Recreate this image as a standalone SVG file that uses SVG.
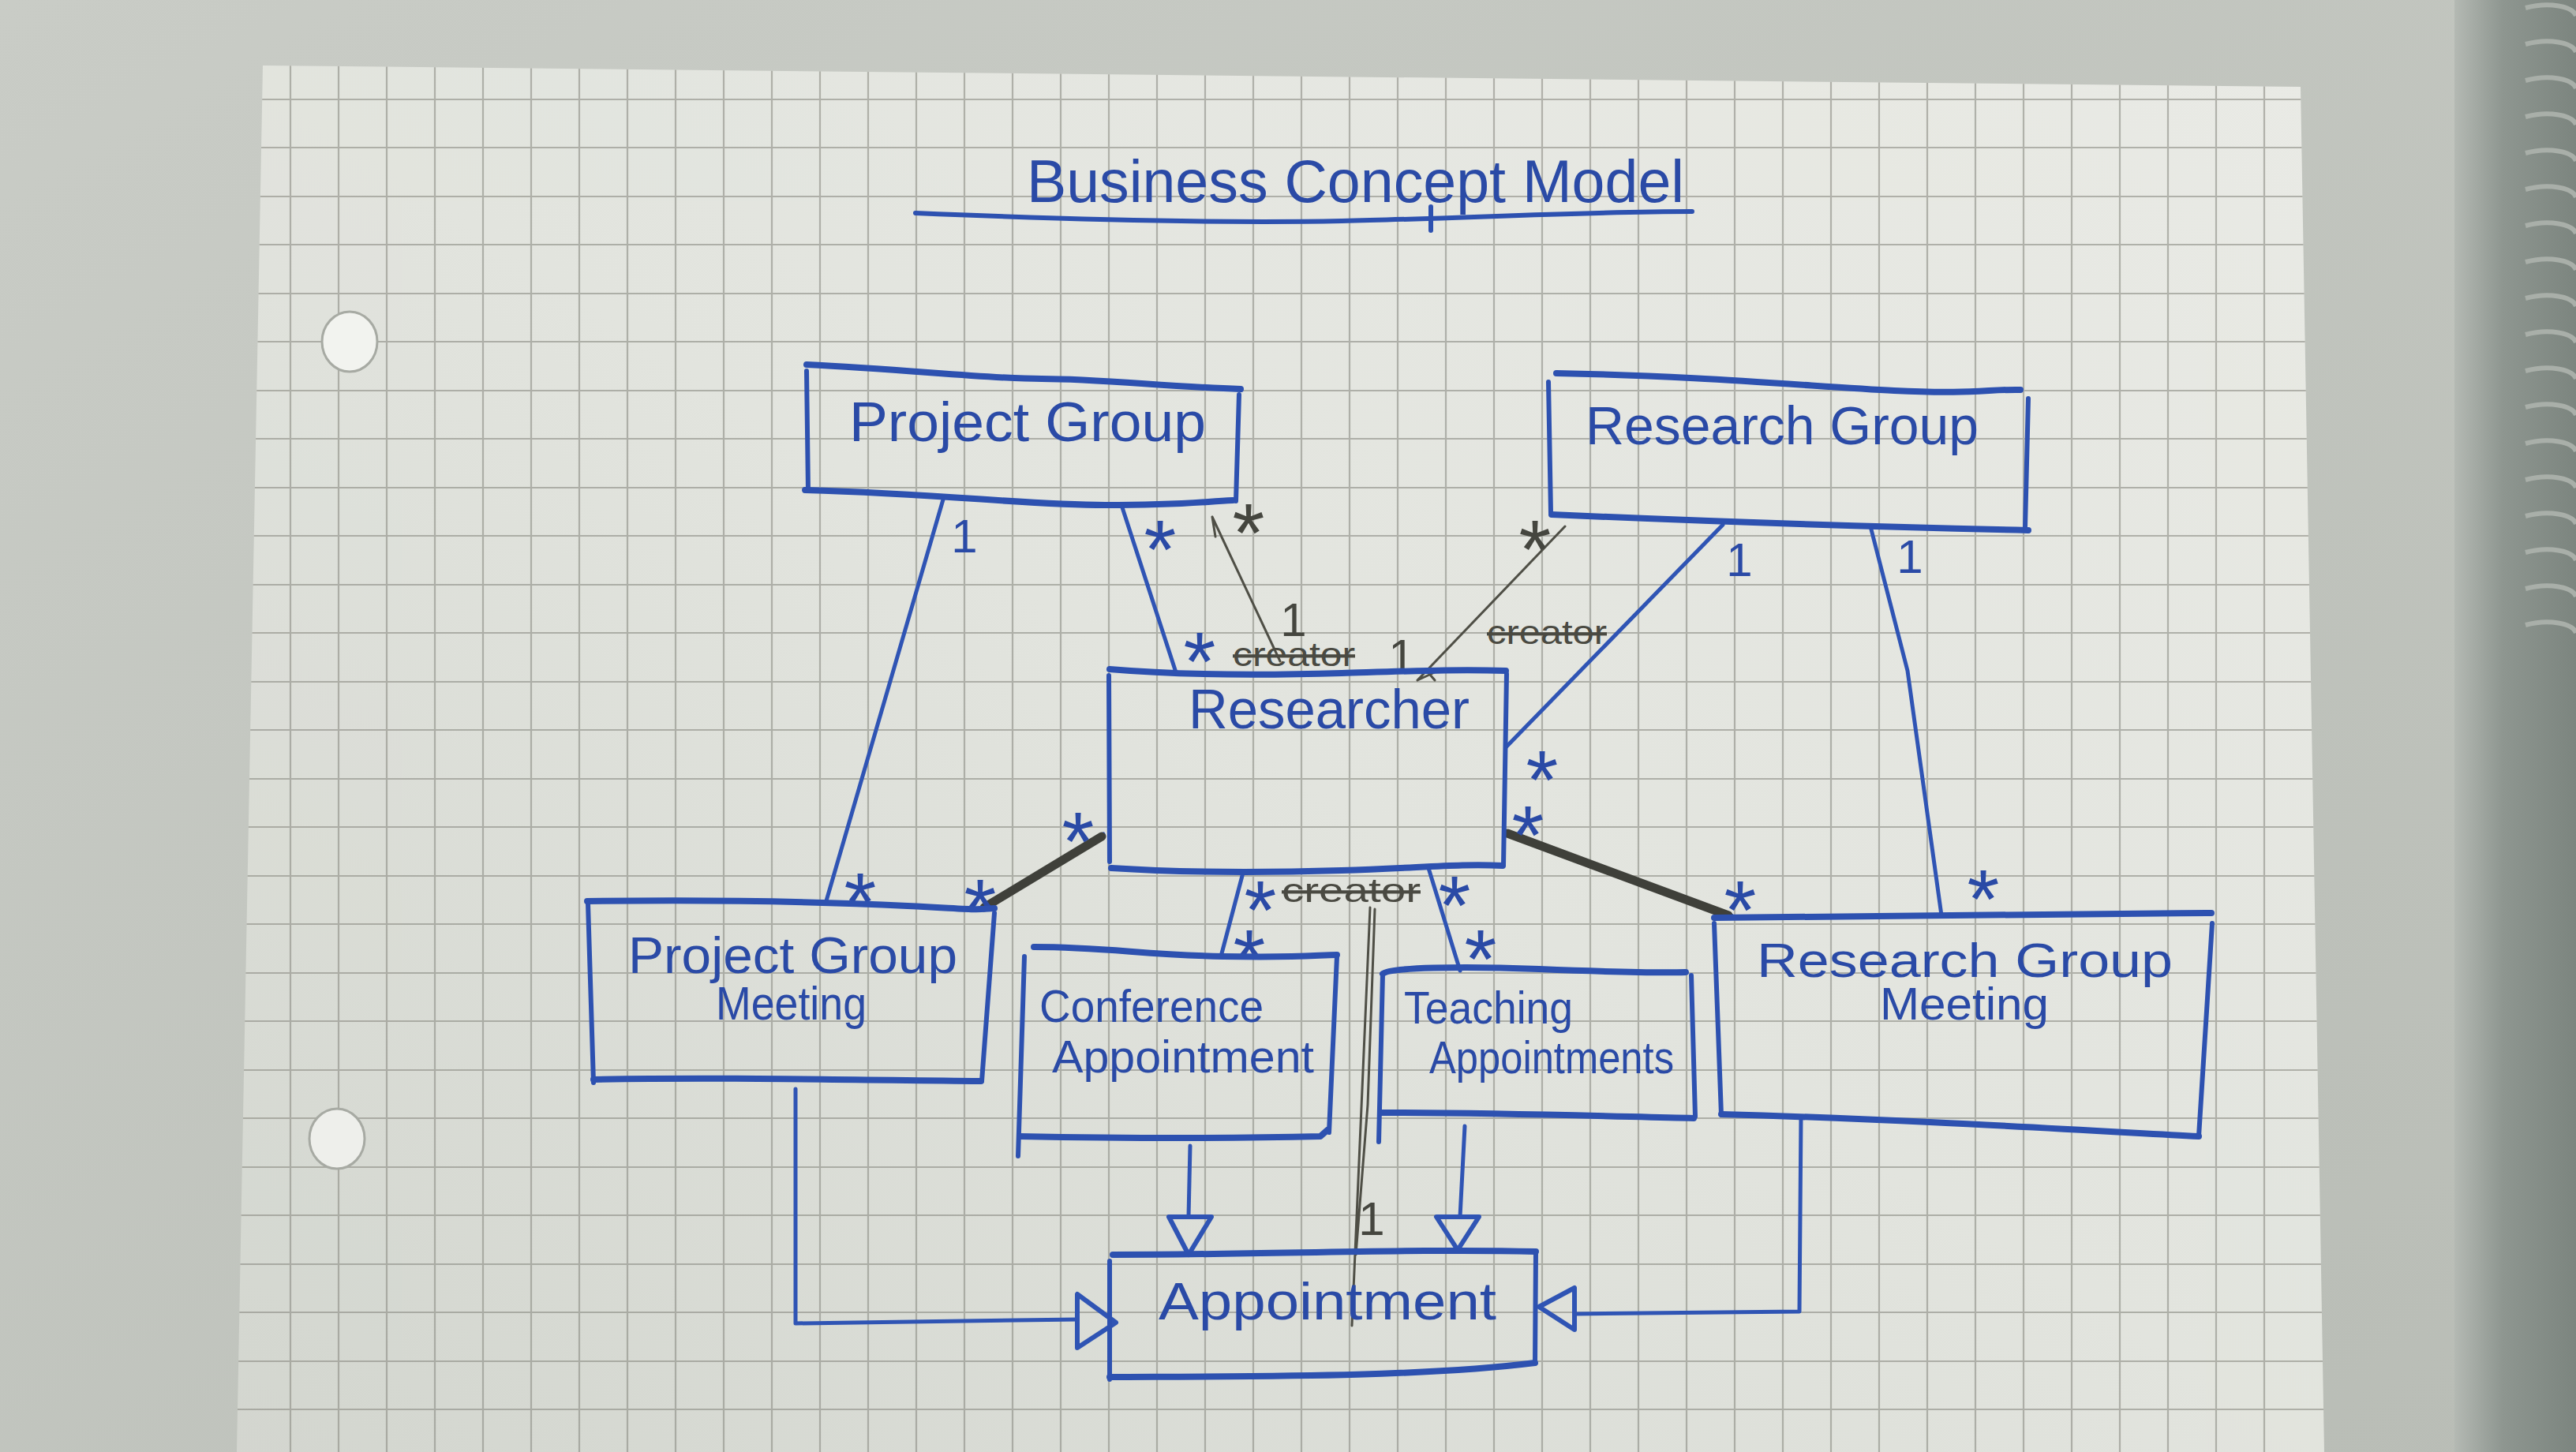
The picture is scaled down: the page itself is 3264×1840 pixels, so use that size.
<svg xmlns="http://www.w3.org/2000/svg" width="3264" height="1840" viewBox="0 0 3264 1840">
<defs>
<linearGradient id="bg" x1="0" y1="0" x2="1" y2="1">
<stop offset="0" stop-color="#c9ccc6"/>
<stop offset="1" stop-color="#b9bdb6"/>
</linearGradient>
<linearGradient id="paper" x1="1" y1="0" x2="0" y2="1">
<stop offset="0" stop-color="#e9eae5"/>
<stop offset="0.5" stop-color="#e2e4de"/>
<stop offset="1" stop-color="#d3d6cf"/>
</linearGradient>
<linearGradient id="nb" x1="0" y1="0" x2="1" y2="0">
<stop offset="0" stop-color="#b4b9b3"/>
<stop offset="0.4" stop-color="#8e9690"/>
<stop offset="1" stop-color="#7c857f"/>
</linearGradient>
<clipPath id="pc"><polygon points="333,83 2915,110 2945,1840 300,1840"/></clipPath>
<style>
.ink{fill:none;stroke:#2d51b0;stroke-width:6;stroke-linecap:round;stroke-linejoin:round}
.top{stroke-width:8}
.con{fill:none;stroke:#2f54b4;stroke-width:5;stroke-linecap:round;stroke-linejoin:round}
.tri{fill:none;stroke:#2f54b4;stroke-width:6;stroke-linejoin:round}
.pen{fill:none;stroke:#4f4f46;stroke-width:3;stroke-linecap:round}
.heavy{fill:none;stroke:#3f403a;stroke-width:11;stroke-linecap:round}
.t{font-family:"Liberation Sans","DejaVu Sans",sans-serif;fill:#2a4aa6}
.ast{font-family:"Liberation Sans","DejaVu Sans",sans-serif;fill:#2a4aa6;font-size:105px;text-anchor:middle}
.one{font-family:"Liberation Sans","DejaVu Sans",sans-serif;fill:#2a4aa6;font-size:60px;text-anchor:middle}
.g{fill:#45463f}
.cr{font-family:"Liberation Sans","DejaVu Sans",sans-serif;fill:#4a4a42;font-size:42px;text-decoration:line-through}
</style>
</defs>
<rect width="3264" height="1840" fill="url(#bg)"/>
<rect x="3110" y="0" width="154" height="1840" fill="url(#nb)"/>
<g fill="none" stroke="#a9afa9" stroke-width="6">
<path d="M3200,10 c30,-8 60,-2 64,10"/><path d="M3200,56 c30,-8 60,-2 64,10"/><path d="M3200,102 c30,-8 60,-2 64,10"/><path d="M3200,148 c30,-8 60,-2 64,10"/><path d="M3200,194 c30,-8 60,-2 64,10"/><path d="M3200,240 c30,-8 60,-2 64,10"/><path d="M3200,286 c30,-8 60,-2 64,10"/><path d="M3200,332 c30,-8 60,-2 64,10"/><path d="M3200,378 c30,-8 60,-2 64,10"/><path d="M3200,424 c30,-8 60,-2 64,10"/><path d="M3200,470 c30,-8 60,-2 64,10"/><path d="M3200,516 c30,-8 60,-2 64,10"/><path d="M3200,562 c30,-8 60,-2 64,10"/><path d="M3200,608 c30,-8 60,-2 64,10"/><path d="M3200,654 c30,-8 60,-2 64,10"/><path d="M3200,700 c30,-8 60,-2 64,10"/><path d="M3200,746 c30,-8 60,-2 64,10"/><path d="M3200,792 c30,-8 60,-2 64,10"/>
</g>
<polygon points="333,83 2915,110 2945,1840 300,1840" fill="url(#paper)"/>
<g clip-path="url(#pc)" fill="none" stroke="#8e8f87" stroke-width="2.2" opacity="0.62">
<path d="M368,80V1840M429,80V1840M490,80V1840M551,80V1840M612,80V1840M673,80V1840M734,80V1840M795,80V1840M856,80V1840M917,80V1840M978,80V1840M1039,80V1840M1100,80V1840M1161,80V1840M1222,80V1840M1283,80V1840M1344,80V1840M1405,80V1840M1466,80V1840M1527,80V1840M1588,80V1840M1649,80V1840M1710,80V1840M1771,80V1840M1832,80V1840M1893,80V1840M1954,80V1840M2015,80V1840M2076,80V1840M2137,80V1840M2198,80V1840M2259,80V1840M2320,80V1840M2381,80V1840M2442,80V1840M2503,80V1840M2564,80V1840M2625,80V1840M2686,80V1840M2747,80V1840M2808,80V1840M2869,80V1840"/>
<path d="M300,126H2950M300,187H2950M300,249H2950M300,310H2950M300,372H2950M300,433H2950M300,495H2950M300,556H2950M300,618H2950M300,679H2950M300,741H2950M300,802H2950M300,864H2950M300,925H2950M300,987H2950M300,1048H2950M300,1110H2950M300,1171H2950M300,1233H2950M300,1294H2950M300,1356H2950M300,1417H2950M300,1479H2950M300,1540H2950M300,1602H2950M300,1663H2950M300,1725H2950M300,1786H2950"/>
</g>
<ellipse cx="443" cy="433" rx="35" ry="38" fill="#f2f3ef" stroke="#a7aaa3" stroke-width="3"/>
<ellipse cx="427" cy="1443" rx="35" ry="38" fill="#eeefeb" stroke="#a7aaa3" stroke-width="3"/>

<g id="title">
<text class="t" x="1301" y="256" font-size="76" textLength="833" lengthAdjust="spacingAndGlyphs">Business Concept Model</text>
<path class="ink" d="M1160,270 C1350,278 1550,283 1700,280 S2000,268 2144,268"/>
<path class="ink" d="M1813,262 L1813,292"/>
</g>

<g id="connectors">
<path class="con" d="M1195,633 L1046,1145"/>
<path class="con" d="M1421,640 L1490,852"/>
<path class="con" d="M2183,665 L1908,947"/>
<path class="con" d="M2370,667 L2417,850 L2460,1160"/>
<path class="con" d="M1575,1106 L1547,1212"/>
<path class="con" d="M1810,1100 L1850,1230"/>
<path class="con" d="M1398,1057 L1245,1150"/>
<path class="heavy" d="M1396,1060 L1247,1150"/>
<path class="con" d="M1908,1053 L2194,1160"/>
<path class="heavy" d="M1910,1056 L2190,1160"/>
<path class="pen" d="M1536,655 L1622,838 M1536,655 L1540,680"/>
<path class="pen" d="M1983,667 L1796,862 M1796,862 L1822,850 M1806,848 L1818,862"/>
<path class="pen" d="M1736,1150 L1713,1680 M1742,1152 L1733,1400 L1718,1590"/>
<path class="con" d="M1008,1380 L1008,1677 L1365,1672"/>
<polygon class="tri" points="1365,1640 1365,1708 1414,1676"/>
<path class="con" d="M1508,1452 L1506,1542"/>
<polygon class="tri" points="1481,1542 1535,1542 1506,1590"/>
<path class="con" d="M1856,1427 L1850,1542"/>
<polygon class="tri" points="1820,1542 1874,1542 1847,1584"/>
<path class="con" d="M2282,1415 L2280,1662 L1995,1665"/>
<polygon class="tri" points="1995,1632 1995,1685 1950,1656"/>
<text class="one" x="1222" y="700">1</text>
<text class="ast" x="1090" y="1180">*</text>
<text class="ast" x="1470" y="733">*</text>
<text class="ast" x="1520" y="875">*</text>
<text class="one" x="2204" y="730">1</text>
<text class="ast" x="1954" y="1025">*</text>
<text class="one" x="2420" y="726">1</text>
<text class="ast" x="2513" y="1176">*</text>
<text class="ast" x="1597" y="1190">*</text>
<text class="ast" x="1583" y="1252">*</text>
<text class="ast" x="1843" y="1184">*</text>
<text class="ast" x="1876" y="1252">*</text>
<text class="ast" x="1366" y="1103">*</text>
<text class="ast" x="1242" y="1188">*</text>
<text class="ast" x="1936" y="1095">*</text>
<text class="ast" x="2205" y="1190">*</text>
<text class="ast g" x="1582" y="712">*</text>
<text class="one g" x="1639" y="806" font-size="52">1</text>
<text class="cr" x="1562" y="844" textLength="155" lengthAdjust="spacingAndGlyphs">creator</text>
<text class="ast g" x="1945" y="733">*</text>
<text class="one g" x="1776" y="852" font-size="54">1</text>
<text class="cr" x="1884" y="816" textLength="152" lengthAdjust="spacingAndGlyphs">creator</text>
<text class="cr" x="1624" y="1143" textLength="176" lengthAdjust="spacingAndGlyphs">creator</text>
<text class="one g" x="1738" y="1565">1</text>
</g>

<g id="project-group">
<path class="ink top" d="M1022,462 C1150,468 1250,480 1320,480 S1480,490 1572,493"/>
<path class="ink" d="M1022,470 L1024,622"/>
<path class="ink top" d="M1020,621 C1200,626 1300,640 1400,640 S1520,636 1562,634"/>
<path class="ink" d="M1570,500 L1566,635"/>
<text class="t" x="1076" y="559" font-size="70" textLength="452" lengthAdjust="spacingAndGlyphs">Project Group</text>
</g>

<g id="research-group">
<path class="ink top" d="M1972,473 C2150,476 2300,490 2400,495 S2520,493 2560,494"/>
<path class="ink" d="M1962,484 L1965,650"/>
<path class="ink top" d="M1966,652 C2100,658 2300,666 2570,672"/>
<path class="ink" d="M2570,505 L2566,668"/>
<text class="t" x="2009" y="563" font-size="68" textLength="498" lengthAdjust="spacingAndGlyphs">Research Group</text>
</g>

<g id="researcher">
<path class="ink top" d="M1406,848 C1500,856 1600,856 1700,853 S1850,848 1908,850"/>
<path class="ink" d="M1405,856 L1406,1092"/>
<path class="ink top" d="M1408,1100 C1500,1106 1600,1106 1700,1103 S1850,1094 1904,1097"/>
<path class="ink" d="M1909,854 L1905,1096"/>
<text class="t" x="1506" y="923" font-size="70" textLength="356" lengthAdjust="spacingAndGlyphs">Researcher</text>
</g>

<g id="project-group-meeting">
<path class="ink top" d="M744,1142 C900,1140 1050,1143 1150,1148 S1230,1153 1260,1151"/>
<path class="ink" d="M745,1145 L752,1372"/>
<path class="ink top" d="M752,1368 C900,1365 1050,1368 1243,1370"/>
<path class="ink" d="M1260,1157 L1244,1370"/>
<text class="t" x="796" y="1233" font-size="64" textLength="417" lengthAdjust="spacingAndGlyphs">Project Group</text>
<text class="t" x="907" y="1292" font-size="60" textLength="191" lengthAdjust="spacingAndGlyphs">Meeting</text>
</g>

<g id="conference-appointment">
<path class="ink top" d="M1310,1200 C1400,1200 1450,1210 1550,1212 S1670,1210 1694,1210"/>
<path class="ink" d="M1298,1212 L1290,1465"/>
<path class="ink top" d="M1292,1440 C1400,1442 1550,1443 1673,1440 L1682,1432"/>
<path class="ink" d="M1694,1212 L1684,1435"/>
<text class="t" x="1317" y="1295" font-size="58" textLength="284" lengthAdjust="spacingAndGlyphs">Conference</text>
<text class="t" x="1333" y="1359" font-size="58" textLength="332" lengthAdjust="spacingAndGlyphs">Appointment</text>
</g>

<g id="teaching-appointments">
<path class="ink top" d="M1752,1234 C1760,1226 1850,1224 1950,1228 S2100,1233 2136,1232"/>
<path class="ink" d="M1752,1234 L1747,1447"/>
<path class="ink top" d="M1749,1410 C1900,1410 2050,1415 2146,1417"/>
<path class="ink" d="M2143,1236 L2148,1415"/>
<text class="t" x="1779" y="1297" font-size="58" textLength="214" lengthAdjust="spacingAndGlyphs">Teaching</text>
<text class="t" x="1811" y="1360" font-size="58" textLength="310" lengthAdjust="spacingAndGlyphs">Appointments</text>
</g>

<g id="research-group-meeting">
<path class="ink top" d="M2172,1163 C2400,1160 2600,1158 2802,1157"/>
<path class="ink" d="M2172,1170 L2181,1413"/>
<path class="ink top" d="M2181,1412 C2400,1418 2600,1430 2786,1440"/>
<path class="ink" d="M2803,1170 L2786,1440"/>
<text class="t" x="2226" y="1238" font-size="62" textLength="527" lengthAdjust="spacingAndGlyphs">Research Group</text>
<text class="t" x="2382" y="1292" font-size="58" textLength="214" lengthAdjust="spacingAndGlyphs">Meeting</text>
</g>

<g id="appointment">
<path class="ink top" d="M1410,1590 C1600,1590 1800,1582 1946,1586"/>
<path class="ink" d="M1406,1598 L1406,1748"/>
<path class="ink top" d="M1406,1745 C1600,1744 1800,1745 1945,1727"/>
<path class="ink" d="M1946,1586 L1945,1728"/>
<text class="t" x="1468" y="1672" font-size="66" textLength="428" lengthAdjust="spacingAndGlyphs">Appointment</text>
</g>
</svg>
